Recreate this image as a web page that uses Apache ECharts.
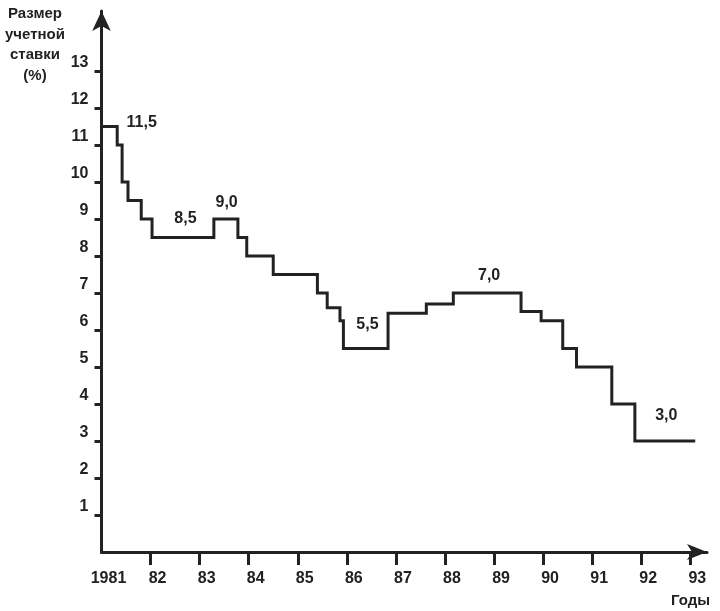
<!DOCTYPE html>
<html>
<head>
<meta charset="utf-8">
<script src="https://cdn.jsdelivr.net/npm/echarts@6/dist/echarts.min.js"></script>
<style>
  html, body { margin: 0; padding: 0; background: #ffffff; }
  #chart { width: 720px; height: 611px; }
</style>
</head>
<body>
<div id="chart"></div>
<script>
// ---- data ----
// year at which each discount-rate level starts, and the level (%)
const stepYears = [1981.0, 1981.32, 1981.42, 1981.54, 1981.81, 1982.03, 1983.29, 1983.78, 1983.96,
                   1984.5, 1985.4, 1985.6, 1985.86, 1985.93, 1986.84, 1987.62, 1988.17, 1989.55,
                   1989.96, 1990.4, 1990.68, 1991.4, 1991.87, 1993.1];
const stepRates = [11.5, 11.0, 10.0, 9.5, 9.0, 8.5, 9.0, 8.5, 8.0,
                   7.5, 7.0, 6.6, 6.25, 5.5, 6.45, 6.7, 7.0, 6.5,
                   6.25, 5.5, 5.0, 4.0, 3.0, 3.0];
// annotated levels
const annoYears = [1981.82, 1982.71, 1983.55, 1986.42, 1988.9, 1992.51];
const annoValues = [11.5, 8.5, 9.0, 5.5, 7.0, 3.0];
// axis ticks and labels
const yTickValues = [1, 2, 3, 4, 5, 6, 7, 8, 9, 10, 11, 12, 13];
const xTickValues = [1982, 1983, 1984, 1985, 1986, 1987, 1988, 1989, 1990, 1991, 1992, 1993];
const xLabelValues = [1981, 1982, 1983, 1984, 1985, 1986, 1987, 1988, 1989, 1990, 1991, 1992, 1993];
const xLabelTexts = ['1981', '82', '83', '84', '85', '86', '87', '88', '89', '90', '91', '92', '93'];
const yAxisTitle = 'Размер\nучетной\nставки\n(%)';
const xAxisTitle = 'Годы';

// ---- presentation ----
const INK = '#222222';
const FONT = 'Liberation Sans, Arial, sans-serif';
const annoOffsets = [[0, -4], [0, -19], [0, -16], [0, -24], [0, -17], [0, -25]];

const chart = echarts.init(document.getElementById('chart'), null, { renderer: 'canvas' });

const option = {
  animation: false,
  backgroundColor: '#ffffff',
  grid: { left: 101.5, right: 13, top: 11, bottom: 59, containLabel: false },
  xAxis: {
    type: 'value',
    min: 1981,
    max: 1993.34,
    interval: 1,
    splitLine: { show: false },
    axisLine: {
      show: true,
      symbol: ['none', 'arrow'],
      symbolSize: [12, 20],
      lineStyle: { color: INK, width: 3 }
    },
    axisTick: {
      show: true,
      customValues: xTickValues,
      length: 13,
      lineStyle: { color: INK, width: 3 }
    },
    axisLabel: {
      show: true,
      customValues: xLabelValues,
      margin: 19,
      color: INK,
      fontFamily: FONT,
      fontWeight: 'bold',
      fontSize: 16,
      padding: [0, 0, 0, 14],
      formatter: function (v) {
        const i = xLabelValues.indexOf(Math.round(v));
        return i >= 0 ? xLabelTexts[i] : '';
      }
    }
  },
  yAxis: {
    type: 'value',
    min: 0,
    max: 14.62,
    interval: 1,
    splitLine: { show: false },
    axisLine: {
      show: true,
      symbol: ['none', 'arrow'],
      symbolSize: [14, 20],
      lineStyle: { color: INK, width: 3 }
    },
    axisTick: {
      show: true,
      customValues: yTickValues,
      length: 7,
      lineStyle: { color: INK, width: 3 }
    },
    axisLabel: {
      show: true,
      customValues: yTickValues,
      margin: 13,
      color: INK,
      fontFamily: FONT,
      fontWeight: 'bold',
      fontSize: 16,
      verticalAlign: 'bottom',
      lineHeight: 16
    }
  },
  series: [
    {
      type: 'line',
      step: 'end',
      data: stepYears.map((y, i) => [y, stepRates[i]]),
      showSymbol: false,
      symbol: 'none',
      lineStyle: { color: INK, width: 3, join: 'miter' },
      silent: true
    },
    {
      type: 'scatter',
      data: annoYears.map((y, i) => ({
        value: [y, annoValues[i]],
        label: { offset: annoOffsets[i] }
      })),
      symbolSize: 0,
      itemStyle: { color: INK, opacity: 1 },
      silent: true,
      label: {
        show: true,
        position: 'inside',
        color: INK,
        opacity: 1,
        textBorderWidth: 0,
        textBorderColor: 'transparent',
        fontFamily: FONT,
        fontWeight: 'bold',
        fontSize: 16,
        formatter: function (p) { return p.value[1].toFixed(1).replace('.', ','); }
      }
    }
  ],
  graphic: [
    {
      type: 'text',
      x: 35,
      y: 4,
      silent: true,
      style: {
        text: yAxisTitle,
        align: 'center',
        verticalAlign: 'top',
        fill: INK,
        font: 'bold 15px ' + FONT,
        lineHeight: 20.5
      }
    },
    {
      type: 'text',
      x: 710,
      y: 601,
      silent: true,
      style: {
        text: xAxisTitle,
        align: 'right',
        verticalAlign: 'middle',
        fill: INK,
        font: 'bold 15px ' + FONT
      }
    }
  ]
};

chart.setOption(option);
</script>
</body>
</html>
